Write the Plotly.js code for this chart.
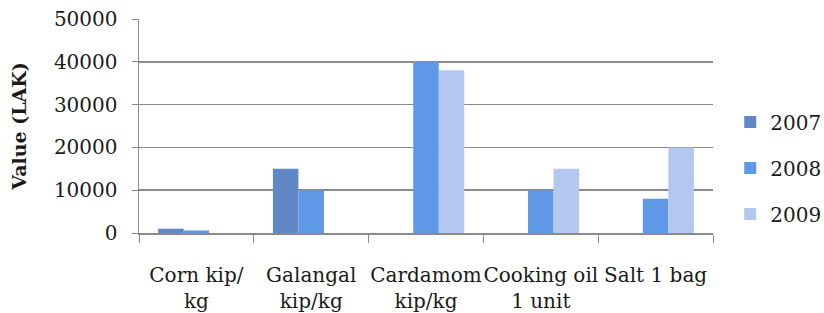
<!DOCTYPE html>
<html>
<head>
<meta charset="utf-8">
<script src="https://cdn.plot.ly/plotly-3.0.1.min.js"></script>
<style>html,body{margin:0;padding:0;background:#fff;}#chart{width:824px;height:313px;}</style>
</head>
<body>
<div id="chart"></div>
<script>
const categories = ["Corn kip/<br>kg", "Galangal<br>kip/kg", "Cardamom<br>kip/kg", "Cooking oil<br>1 unit", "Salt 1 bag"];
const series2007 = [1000, 15000, null, null, null];
const series2008 = [600, 10000, 40000, 10000, 8000];
const series2009 = [null, null, 38000, 15000, 20000];
const seriesNames = ["2007", "2008", "2009"];
const yTicks = [0, 10000, 20000, 30000, 40000, 50000];
const yTickText = ["0", "10000", "20000", "30000", "40000", "50000"];

const colors = ["#6088c6", "#5f98e6", "#b3c8f0"];
const allSeries = [series2007, series2008, series2009];
const traces = allSeries.map((vals, i) => ({
  type: "bar",
  name: seriesNames[i],
  x: categories,
  y: vals,
  legendgroup: "g" + i,
  marker: {color: colors[i], line: {width: 0}}
}));

const font = "DejaVu Serif, serif";
const layout = {
  width: 824, height: 313,
  margin: {l: 139, r: 111, t: 19, b: 80, autoexpand: false},
  paper_bgcolor: "#fff", plot_bgcolor: "#fff",
  barmode: "group", bargap: 0.333, bargroupgap: 0,
  font: {family: font, size: 20, color: "#1a1a1a"},
  showlegend: true,
  legend: {x: 1.03, xanchor: "left", y: 0.304, yanchor: "middle",
           font: {family: font, size: 20, color: "#1a1a1a"},
           tracegroupgap: 17, bgcolor: "rgba(0,0,0,0)"},
  xaxis: {type: "category", tickson: "boundaries", ticks: "outside", ticklen: 8,
          tickcolor: "#8a8a8a", showline: true, linecolor: "#8a8a8a", linewidth: 1.5,
          showgrid: false, ticklabelstandoff: 23, tickangle: 0, automargin: false,
          tickfont: {family: font, size: 20, color: "#1a1a1a"}},
  yaxis: {range: [0, 50000], tickvals: yTicks, ticktext: yTickText, ticks: "outside", ticklen: 6,
          tickcolor: "#8a8a8a", showline: true, linecolor: "#8a8a8a", linewidth: 1.5,
          gridcolor: "#8a8a8a", gridwidth: 1.5, zeroline: false, ticklabelstandoff: 10,
          automargin: false,
          tickfont: {family: font, size: 20, color: "#1a1a1a"},
          title: {text: "<b>Value (LAK)</b>", font: {family: font, size: 19, color: "#1a1a1a"}, standoff: 22}}
};
Plotly.newPlot("chart", traces, layout, {displayModeBar: false, staticPlot: true});
</script>
</body>
</html>
